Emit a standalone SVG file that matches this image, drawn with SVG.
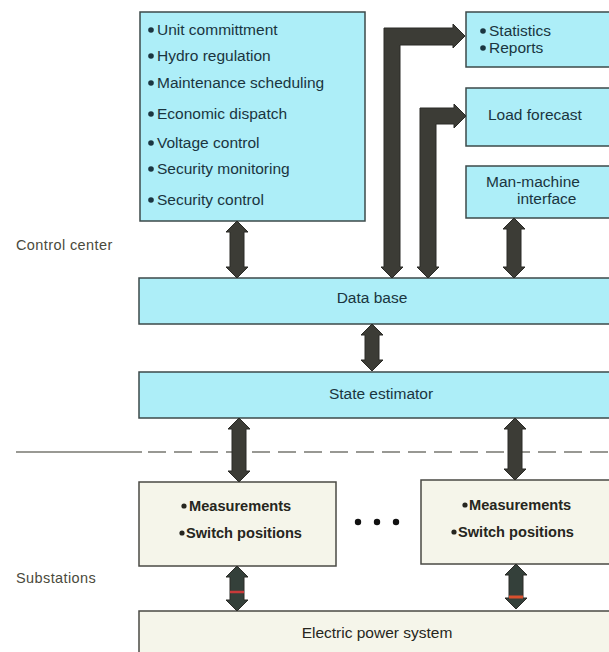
<svg xmlns="http://www.w3.org/2000/svg" width="609" height="652" viewBox="0 0 609 652">
<style>
.cy{fill:#adeef8;stroke:#3d4a4a;stroke-width:1.5}
.bg{fill:#f5f5ea;stroke:#4a4a44;stroke-width:1.5}
.t{font-family:"Liberation Sans",Arial,sans-serif;font-size:15.5px;fill:#1a3540}
.s{font-family:"Liberation Sans",Arial,sans-serif;font-size:14.6px;font-weight:bold;fill:#262620}
.lab{font-family:"Liberation Sans",Arial,sans-serif;font-size:14.5px;letter-spacing:0.4px;fill:#4a4a3c}
.ar{fill:#3c3c36;stroke:#2a2a26;stroke-width:1}
.bul{fill:#1a3540}
.sb{fill:#262620}
</style>
<rect width="609" height="652" fill="#ffffff"/>
<text class="lab" x="16" y="250">Control center</text>
<text class="lab" x="16" y="583">Substations</text>
<g id="divider" stroke="#777770" stroke-width="1.3">
<line x1="16" y1="452" x2="142" y2="452"/>
<line x1="148" y1="452" x2="609" y2="452" stroke-dasharray="18 8"/>
</g>
<g id="functions">
<rect class="cy" x="140" y="12" width="225" height="209"/>
<circle class="bul" cx="151" cy="30" r="2.8"/><text class="t" x="157" y="35">Unit committment</text>
<circle class="bul" cx="151" cy="56" r="2.8"/><text class="t" x="157" y="61">Hydro regulation</text>
<circle class="bul" cx="151" cy="83" r="2.8"/><text class="t" x="157" y="88">Maintenance scheduling</text>
<circle class="bul" cx="151" cy="114" r="2.8"/><text class="t" x="157" y="119">Economic dispatch</text>
<circle class="bul" cx="151" cy="143" r="2.8"/><text class="t" x="157" y="148">Voltage control</text>
<circle class="bul" cx="151" cy="169" r="2.8"/><text class="t" x="157" y="174">Security monitoring</text>
<circle class="bul" cx="151" cy="200" r="2.8"/><text class="t" x="157" y="205">Security control</text>
</g>
<g id="statistics">
<rect class="cy" x="466" y="12" width="150" height="55"/>
<circle class="bul" cx="483" cy="31" r="2.8"/><text class="t" x="489" y="36">Statistics</text>
<circle class="bul" cx="483" cy="48" r="2.8"/><text class="t" x="489" y="53">Reports</text>
</g>
<g id="loadforecast">
<rect class="cy" x="466" y="88" width="150" height="58"/>
<text class="t" x="488" y="120">Load forecast</text>
</g>
<g id="mmi">
<rect class="cy" x="466" y="166" width="150" height="52"/>
<text class="t" x="486" y="187">Man-machine</text>
<text class="t" x="517" y="204">interface</text>
</g>
<g id="database">
<rect class="cy" x="139" y="278" width="480" height="46"/>
<text class="t" x="372" y="303" text-anchor="middle">Data base</text>
</g>
<g id="stateestimator">
<rect class="cy" x="139" y="372" width="480" height="46"/>
<text class="t" x="381" y="399" text-anchor="middle">State estimator</text>
</g>
<g id="substation1">
<rect class="bg" x="139" y="482" width="197" height="84"/>
<circle class="sb" cx="184" cy="506" r="2.6"/><text class="s" x="189" y="511">Measurements</text>
<circle class="sb" cx="182" cy="533" r="2.6"/><text class="s" x="186" y="538">Switch positions</text>
</g>
<g id="ellipsis" fill="#111">
<circle cx="358" cy="522" r="3.2"/><circle cx="377" cy="522" r="3.2"/><circle cx="396" cy="522" r="3.2"/>
</g>
<g id="substation2">
<rect class="bg" x="421" y="480" width="195" height="84"/>
<circle class="sb" cx="465" cy="505" r="2.6"/><text class="s" x="469" y="510">Measurements</text>
<circle class="sb" cx="454" cy="532" r="2.6"/><text class="s" x="458" y="537">Switch positions</text>
</g>
<g id="powersystem">
<rect class="bg" x="139" y="611" width="480" height="50"/>
<text class="t" x="377" y="638" text-anchor="middle" style="fill:#262620">Electric power system</text>
</g>
<g id="connectors">
<path class="ar" d="M237,221 L248,232 L244,232 L244,267 L248,267 L237,278 L226,267 L230,267 L230,232 L226,232 Z"/>
<path class="ar" d="M514,218 L525,229 L521,229 L521,267 L525,267 L514,278 L503,267 L507,267 L507,229 L503,229 Z"/>
<path class="ar" d="M372,324 L383,335 L379,335 L379,360 L383,360 L372,371 L361,360 L365,360 L365,335 L361,335 Z"/>
<path class="ar" d="M239,418 L250,429 L246,429 L246,471 L250,471 L239,482 L228,471 L232,471 L232,429 L228,429 Z"/>
<path class="ar" d="M515,418 L526,429 L522,429 L522,469 L526,469 L515,480 L504,469 L508,469 L508,429 L504,429 Z"/>
<path class="ar" d="M237,566 L248,577 L244,577 L244,600 L248,600 L237,611 L226,600 L230,600 L230,577 L226,577 Z" style="fill:#34403a"/>
<path class="ar" d="M516,564 L527,575 L523,575 L523,598 L527,598 L516,609 L505,598 L509,598 L509,575 L505,575 Z" style="fill:#34403a"/>
<line x1="230" y1="592" x2="244" y2="592" stroke="#c83a3a" stroke-width="2.5"/>
<line x1="509" y1="597" x2="523" y2="597" stroke="#d8502e" stroke-width="3"/>
<path class="ar" d="M392,278 L403,267 L400,267 L400,45 L453,45 L453,48 L465,36 L453,24 L453,28 L384,28 L384,267 L381,267 Z"/>
<path class="ar" d="M428,278 L439,267 L436,267 L436,124 L454,124 L454,128 L466,116 L454,104 L454,108 L420,108 L420,267 L417,267 Z"/>
</g>
</svg>
